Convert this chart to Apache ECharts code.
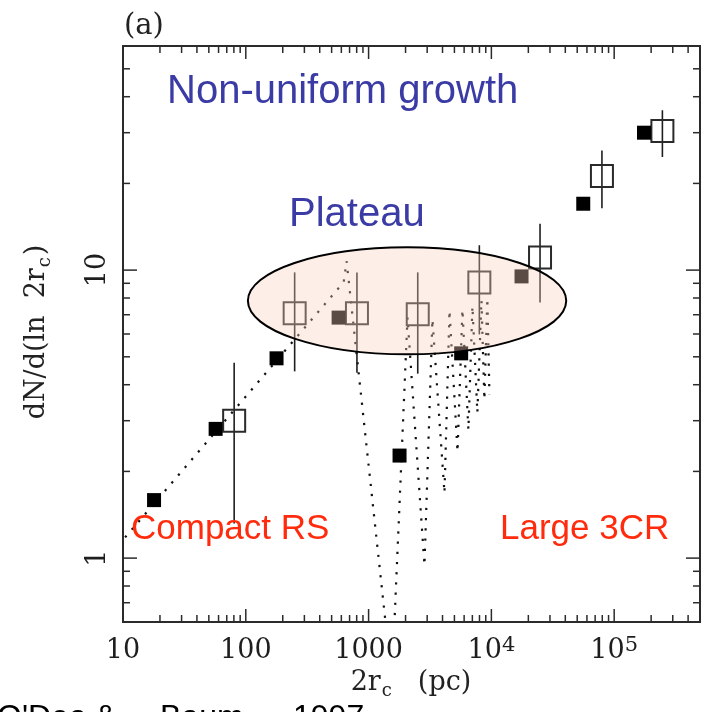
<!DOCTYPE html>
<html>
<head>
<meta charset="utf-8">
<script src="https://cdn.jsdelivr.net/npm/echarts@6/dist/echarts.min.js"></script>
<style>
  html, body { margin: 0; padding: 0; background: #ffffff; }
  #chart { width: 708px; height: 712px; }
</style>
</head>
<body>
<div id="chart"></div>
<script>
// Linear sizes 2r_c (pc) and dN/d(ln 2r_c) for the filled-square sample
const filledX = [17.9, 56.8, 178, 570, 1787, 5675, 17600, 56000, 175000];
const filledY = [1.59, 2.81, 4.94, 6.84, 2.27, 5.14, 9.51, 17.0, 30.0];

// Open-square sample with its error range
const openX  = [80.4, 250, 804, 2514, 7980, 24900, 79500, 247000];
const openY  = [3.0, 7.08, 7.08, 7.03, 9.06, 11.07, 21.2, 30.4];
const openLo = [1.32, 4.45, 4.40, 4.37, 5.98, 7.72, 16.4, 24.7];
const openHi = [4.77, 9.82, 9.82, 9.82, 12.2, 14.5, 26.0, 35.9];

// Dotted model curve
const modelX = [10.4, 627, 662, 1549, 2075, 2851, 3311, 4150, 4560, 5300, 5810, 6500, 7010, 7690, 8300, 8770, 9270, 9640];
const modelY = [1.18, 9.08, 10.75, 0.373, 6.86, 0.945, 6.75, 1.685, 7.25, 2.34, 7.30, 2.79, 7.49, 3.20, 7.86, 3.55, 7.98, 3.70];

// Plateau region (x range in pc, y range)
const plateauX = [104, 40700];
const plateauY = [5.1, 12.0];

// Axis ranges, ticks and tick labels
const xRange = [10, 500000];
const yRange = [0.6, 60];
const xMajorTicks = [10, 100, 1000, 10000, 100000];
const xTickLabels = ['10', '100', '1000', '10{sup|4}', '10{sup|5}'];
const xMinorTicks = [20, 30, 40, 50, 60, 70, 80, 90,
                     200, 300, 400, 500, 600, 700, 800, 900,
                     2000, 3000, 4000, 5000, 6000, 7000, 8000, 9000,
                     20000, 30000, 40000, 50000, 60000, 70000, 80000, 90000,
                     200000, 300000, 400000];
const yMajorTicks = [1, 10];
const yTickLabels = ['1', '10'];
const yMinorTicks = [0.7, 0.8, 0.9, 2, 3, 4, 5, 6, 7, 8, 9, 20, 30, 40, 50];

const SERIF = 'DejaVu Serif';
const SANS = 'Liberation Sans';
const INK = '#2b2b2b';

function labelFor(values, labels) {
  return function (v) {
    for (let i = 0; i < values.length; i++) {
      if (Math.abs(Math.log10(v / values[i])) < 1e-6) return labels[i];
    }
    return '';
  };
}

const xTickData = xMajorTicks.map(v => [v, yRange[0], 2]).concat(xMinorTicks.map(v => [v, yRange[0], 1]));
const yTickData = yMajorTicks.map(v => [xRange[0], v, 2]).concat(yMinorTicks.map(v => [xRange[0], v, 1]));

function renderXTicks(params, api) {
  const r = params.coordSys;
  const px = api.coord([api.value(0), yRange[0]])[0];
  const len = api.value(2) === 2 ? 13 : 7;
  const st = { stroke: INK, lineWidth: 1.5 };
  return { type: 'group', children: [
    { type: 'line', shape: { x1: px, y1: r.y + r.height, x2: px, y2: r.y + r.height - len }, style: st },
    { type: 'line', shape: { x1: px, y1: r.y, x2: px, y2: r.y + len }, style: st }
  ]};
}

function renderYTicks(params, api) {
  const r = params.coordSys;
  const py = api.coord([xRange[0], api.value(1)])[1];
  const len = api.value(2) === 2 ? 14 : 7;
  const st = { stroke: INK, lineWidth: 1.5 };
  return { type: 'group', children: [
    { type: 'line', shape: { x1: r.x, y1: py, x2: r.x + len, y2: py }, style: st },
    { type: 'line', shape: { x1: r.x + r.width, y1: py, x2: r.x + r.width - len, y2: py }, style: st }
  ]};
}

function renderErrorBar(params, api) {
  const x = api.value(0);
  const lo = api.coord([x, api.value(2)]);
  const hi = api.coord([x, api.value(3)]);
  return { type: 'line', shape: { x1: lo[0], y1: lo[1], x2: hi[0], y2: hi[1] },
           style: { stroke: '#1e1e1e', lineWidth: 1.6 } };
}

function renderPlateau(params, api) {
  const a = api.coord([plateauX[0], plateauY[1]]);
  const b = api.coord([plateauX[1], plateauY[0]]);
  return {
    type: 'ellipse',
    shape: { cx: (a[0] + b[0]) / 2, cy: (a[1] + b[1]) / 2, rx: (b[0] - a[0]) / 2, ry: (b[1] - a[1]) / 2 },
    style: { fill: 'rgba(250, 210, 190, 0.36)', stroke: '#000000', lineWidth: 2 }
  };
}

const chart = echarts.init(document.getElementById('chart'), null, { renderer: 'canvas' });

chart.setOption({
  backgroundColor: '#ffffff',
  animation: false,
  grid: {
    left: 123, right: 8, top: 46, bottom: 90,
    containLabel: false, outerBoundsMode: 'none',
    show: true, borderColor: INK, borderWidth: 2, backgroundColor: 'transparent'
  },
  xAxis: {
    type: 'log', logBase: 10, min: xRange[0], max: xRange[1],
    axisLine: { show: false }, axisTick: { show: false }, splitLine: { show: false },
    axisLabel: {
      formatter: labelFor(xMajorTicks, xTickLabels),
      fontFamily: SERIF, fontSize: 27, lineHeight: 32, color: '#1e1e1e', margin: 13,
      showMinLabel: true, showMaxLabel: true,
      rich: {
        sup: { fontFamily: SERIF, fontSize: 21, lineHeight: 12, verticalAlign: 'top', color: '#1e1e1e' }
      }
    }
  },
  yAxis: {
    type: 'log', logBase: 10, min: yRange[0], max: yRange[1],
    axisLine: { show: false }, axisTick: { show: false }, splitLine: { show: false },
    axisLabel: {
      formatter: labelFor(yMajorTicks, yTickLabels),
      fontFamily: SERIF, fontSize: 27, color: '#1e1e1e', margin: 12, rotate: 90,
      showMinLabel: true, showMaxLabel: true
    }
  },
  series: [
    {
      name: 'model', type: 'line', z: 2, clip: true, symbol: 'none', silent: true,
      data: modelX.map((x, i) => [x, modelY[i]]),
      lineStyle: { color: '#111', width: 2.2, type: [2.2, 8], opacity: 1 }
    },
    {
      name: 'errors', type: 'custom', z: 3, renderItem: renderErrorBar, silent: true,
      data: openX.map((x, i) => [x, openY[i], openLo[i], openHi[i]])
    },
    {
      name: 'open', type: 'scatter', z: 4, symbol: 'rect', symbolSize: 22, silent: true,
      data: openX.map((x, i) => [x, openY[i]]),
      itemStyle: { color: 'rgba(0,0,0,0)', borderColor: '#2a2a2a', borderWidth: 2, opacity: 1 }
    },
    {
      name: 'filled', type: 'scatter', z: 5, symbol: 'rect', symbolSize: 14, silent: true,
      data: filledX.map((x, i) => [x, filledY[i]]),
      itemStyle: { color: '#000000', opacity: 1 }
    },
    {
      name: 'plateau', type: 'custom', z: 6, renderItem: renderPlateau, silent: true,
      data: [[Math.sqrt(plateauX[0] * plateauX[1]), Math.sqrt(plateauY[0] * plateauY[1])]]
    },
    { name: 'xticks', type: 'custom', z: 7, renderItem: renderXTicks, silent: true, data: xTickData },
    { name: 'yticks', type: 'custom', z: 7, renderItem: renderYTicks, silent: true, data: yTickData }
  ],
  graphic: [
    { type: 'text', x: 124, y: 26, z: 20,
      style: { text: '(a)', font: '29px ' + SERIF, fill: '#222', verticalAlign: 'middle' } },
    { type: 'text', x: 167, y: 92, z: 20,
      style: { text: 'Non-uniform growth', font: '40px ' + SANS, fill: '#3b3ba6', verticalAlign: 'middle' } },
    { type: 'text', x: 289, y: 215, z: 20,
      style: { text: 'Plateau', font: '40px ' + SANS, fill: '#3b3ba6', verticalAlign: 'middle' } },
    { type: 'text', x: 131, y: 529, z: 20,
      style: { text: 'Compact RS', font: '35px ' + SANS, fill: '#ff2b0c', verticalAlign: 'middle' } },
    { type: 'text', x: 500, y: 529, z: 20,
      style: { text: 'Large 3CR', font: '35px ' + SANS, fill: '#ff2b0c', verticalAlign: 'middle' } },
    { type: 'text', x: 411, y: 683, z: 20,
      style: {
        text: '{a|2r}{s|c}{a|(pc)}', align: 'center', verticalAlign: 'middle', fill: '#222',
        rich: {
          a: { fontFamily: SERIF, fontSize: 27, lineHeight: 34, fill: '#222' },
          s: { fontFamily: SERIF, fontSize: 18, lineHeight: 16, verticalAlign: 'bottom', padding: [0, 26, 0, 1], fill: '#222' }
        }
      } },
    { type: 'text', x: 37, y: 332, rotation: Math.PI / 2, z: 20,
      style: {
        text: '{a|dN/d(ln  2r}{s|c}{a|)}', align: 'center', verticalAlign: 'middle', fill: '#222',
        rich: {
          a: { fontFamily: SERIF, fontSize: 27, lineHeight: 34, fill: '#222' },
          s: { fontFamily: SERIF, fontSize: 18, lineHeight: 16, verticalAlign: 'bottom', padding: [0, 2, 0, 1], fill: '#222' }
        }
      } },
    { type: 'text', x: -3, y: 702, z: 20,
      style: { text: "O'Dea", font: '32px ' + SANS, fill: '#000', verticalAlign: 'top' } },
    { type: 'text', x: 95, y: 702, z: 20,
      style: { text: '&', font: '32px ' + SANS, fill: '#000', verticalAlign: 'top' } },
    { type: 'text', x: 160, y: 702, z: 20,
      style: { text: 'Baum', font: '32px ' + SANS, fill: '#000', verticalAlign: 'top' } },
    { type: 'text', x: 293, y: 702, z: 20,
      style: { text: '1997', font: '32px ' + SANS, fill: '#000', verticalAlign: 'top' } }
  ]
});
</script>
</body>
</html>
